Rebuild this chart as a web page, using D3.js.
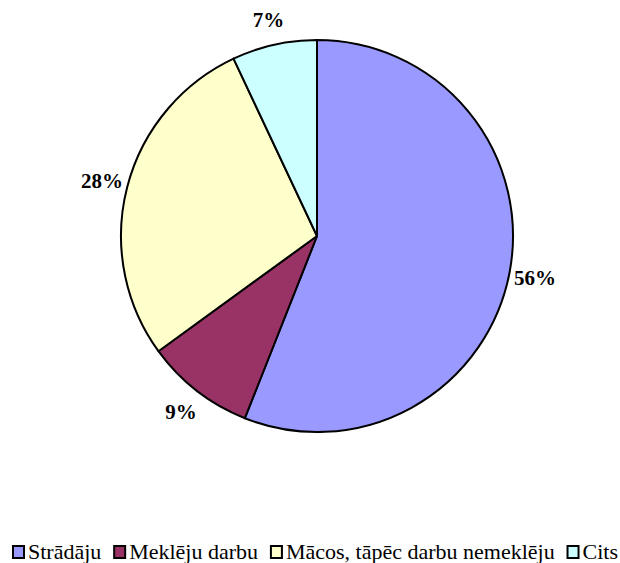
<!DOCTYPE html>
<html>
<head>
<meta charset="utf-8">
<script src="https://cdn.jsdelivr.net/npm/d3@7"></script>
<style>
  body { margin: 0; background: #fff; }
</style>
</head>
<body>
<div id="chart"></div>
<script>
// Chart data
const categories = ["Strādāju", "Meklēju darbu", "Mācos, tāpēc darbu nemeklēju", "Cits"];
const values = [56, 9, 28, 7];
const colors = ["#9999FF", "#993366", "#FFFFCC", "#CCFFFF"];

const width = 620, height = 563;
const cx = 317, cy = 236, radius = 196;
const font = "'Liberation Serif', 'Times New Roman', Times, serif";

const svg = d3.select("#chart").append("svg")
  .attr("width", width)
  .attr("height", height)
  .style("font-family", font);

const pie = d3.pie().sort(null).value(d => d.value);
const arcs = pie(categories.map((c, i) => ({ name: c, value: values[i], color: colors[i] })));

const arc = d3.arc().innerRadius(0).outerRadius(radius);
const labelArc = d3.arc().innerRadius(222).outerRadius(222);

const g = svg.append("g").attr("transform", `translate(${cx},${cy})`);

g.selectAll("path")
  .data(arcs)
  .enter().append("path")
  .attr("d", arc)
  .attr("fill", d => d.data.color)
  .attr("stroke", "#000")
  .attr("stroke-width", 2)
  .attr("stroke-linejoin", "round");

// Percent labels outside the slices
g.selectAll("text.lbl")
  .data(arcs)
  .enter().append("text")
  .attr("class", "lbl")
  .attr("transform", d => `translate(${labelArc.centroid(d)})`)
  .attr("text-anchor", "middle")
  .attr("dy", "0.35em")
  .attr("font-family", font)
  .attr("font-size", 21)
  .attr("font-weight", "bold")
  .text(d => d.data.value + "%");

// Legend along the bottom, spread between x=12 and x=618
const legendLeft = 12, legendRight = 618;
const legend = svg.append("g").attr("transform", "translate(0,559)");
const items = categories.map((c, i) => {
  const item = legend.append("g");
  item.append("rect")
    .attr("x", 1).attr("y", -13)
    .attr("width", 11).attr("height", 12)
    .attr("fill", colors[i])
    .attr("stroke", "#000")
    .attr("stroke-width", 2);
  const t = item.append("text")
    .attr("x", 16).attr("y", 0)
    .attr("font-family", font)
    .attr("font-size", 22)
    .text(c);
  return { item, w: 16 + t.node().getComputedTextLength() };
});
const total = d3.sum(items, d => d.w);
const gap = Math.max(6, (legendRight - legendLeft - total) / (items.length - 1));
let x = legendLeft;
items.forEach(d => {
  d.item.attr("transform", `translate(${x},0)`);
  x += d.w + gap;
});
</script>
</body>
</html>
